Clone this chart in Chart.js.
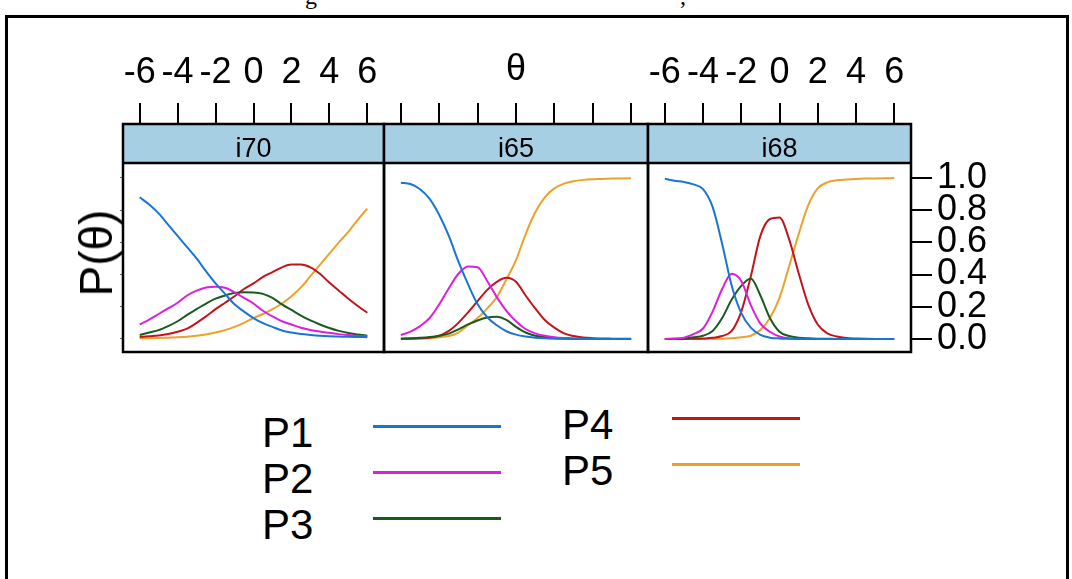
<!DOCTYPE html>
<html>
<head>
<meta charset="utf-8">
<script src="https://cdn.jsdelivr.net/npm/chart.js@4.4.1/dist/chart.umd.min.js"></script>
<style>
  html, body { margin:0; padding:0; background:#fff; width:1072px; height:579px; overflow:hidden;
    font-family:"Liberation Sans", Arial, sans-serif; }
  #frame { position:absolute; left:5px; top:15px; width:1064px; height:640px; border:3px solid #000; box-sizing:border-box; }
  canvas { position:absolute; }
  .cap { position:absolute; top:-16px; font-family:"Liberation Serif", "Times New Roman", serif; font-size:24px; line-height:24px; color:#000; }
  #ylab { position:absolute; left:96px; top:253px; transform:translate(-50%,-50%) rotate(-90deg);
    font-size:46px; line-height:46px; white-space:nowrap; color:#000; }
  .lgt { position:absolute; font-size:42px; line-height:42px; color:#000; white-space:nowrap; }
  .lgl { position:absolute; height:3px; }
</style>
</head>
<body>
<div id="frame"></div>
<span class="cap" style="left:305px">g</span>
<span class="cap" style="left:680px">,</span>
<canvas id="c1" width="277" height="320" style="left:113px;top:40px"></canvas>
<canvas id="c2" width="276" height="320" style="left:378px;top:40px"></canvas>
<canvas id="c3" width="368" height="320" style="left:642px;top:40px"></canvas>
<div id="ylab">P(θ)</div>
<div id="legend"></div>
<script>
// ---------------- data ----------------
const theta = [-6,-5.5,-5,-4.5,-4,-3.5,-3,-2.5,-2,-1.5,-1,-0.5,0,0.5,1,1.5,2,2.5,3,3.5,4,4.5,5,5.5,6];
const categories = ['P1','P2','P3','P4','P5'];
const items = ['i70','i65','i68'];
const xTickValues = [-6,-4,-2,0,2,4,6];
const xTickLabels = ['-6','-4','-2','0','2','4','6'];
const yTickValues = [0,0.2,0.4,0.6,0.8,1.0];
const yTickLabels = ['0.0','0.2','0.4','0.6','0.8','1.0'];
const xTitle = 'θ';

const i70_P1 = [.88,.835,.78,.71,.64,.57,.50,.42,.345,.28,.215,.17,.13,.098,.075,.053,.04,.031,.025,.02,.017,.015,.013,.012,.011];
const i70_P2 = [.09,.12,.155,.19,.225,.27,.30,.32,.325,.318,.29,.255,.22,.175,.14,.11,.09,.07,.056,.046,.038,.03,.024,.019,.015];
const i70_P3 = [.025,.04,.055,.08,.11,.15,.185,.22,.25,.27,.285,.29,.289,.28,.255,.215,.18,.145,.115,.09,.068,.05,.037,.028,.02];
const i70_P4 = [.012,.017,.022,.031,.045,.064,.10,.14,.185,.225,.265,.31,.345,.385,.415,.445,.462,.462,.445,.405,.35,.30,.25,.205,.163];
const i70_P5 = [.004,.005,.006,.008,.01,.014,.02,.028,.04,.055,.075,.10,.13,.155,.185,.22,.265,.32,.39,.46,.53,.60,.665,.74,.81];

const i65_P1 = [.97,.962,.93,.87,.77,.64,.48,.34,.215,.135,.085,.048,.027,.015,.008,.004,.002,.001,0,0,0,0,0,0,0];
const i65_P2 = [.025,.045,.08,.13,.215,.315,.405,.45,.445,.36,.26,.175,.11,.062,.035,.02,.011,.006,.003,.002,.001,0,0,0,0];
const i65_P3 = [.002,.004,.007,.012,.02,.033,.06,.09,.115,.133,.138,.118,.075,.04,.02,.012,.006,.003,.002,.001,0,0,0,0,0];
const i65_P4 = [.001,.002,.004,.008,.02,.05,.10,.165,.235,.305,.355,.38,.355,.27,.19,.118,.07,.035,.018,.009,.005,.003,.002,.001,.001];
const i65_P5 = [0,.001,.002,.005,.01,.018,.04,.085,.13,.19,.26,.37,.49,.65,.785,.88,.935,.965,.98,.988,.992,.994,.996,.997,.998];

const i68_P1 = [.995,.982,.975,.96,.93,.82,.59,.33,.16,.07,.025,.008,.003,.001,0,0,0,0,0,0,0,0,0,0,0];
const i68_P2 = [0,.002,.008,.03,.065,.17,.31,.405,.36,.21,.095,.045,.015,.004,.001,0,0,0,0,0,0,0,0,0,0];
const i68_P3 = [0,.001,.003,.01,.02,.05,.13,.245,.33,.375,.27,.13,.045,.018,.008,.004,.002,.001,0,0,0,0,0,0,0];
const i68_P4 = [0,0,0,.001,.003,.007,.018,.05,.17,.39,.64,.745,.755,.62,.41,.215,.09,.035,.015,.006,.003,.001,0,0,0];
const i68_P5 = [0,0,0,0,0,0,.001,.004,.01,.02,.055,.13,.255,.45,.65,.83,.935,.972,.985,.99,.994,.996,.997,.998,.999];

// ---------------- style ----------------
const FONT = '"Liberation Sans", Arial, sans-serif';
const colors = ['#1a74d6', '#dc1fdc', '#1b5a1f', '#c4141b', '#eca12a'];
const STRIP_BG = '#a7cfe4';
const STRIP_H = 39;
const X_MIN = -6.88, X_MAX = 6.88;
const Y_MIN = -0.081, Y_MAX = 1.335;

const panelPlugin = {
  id: 'panelDeco',
  beforeDatasetsDraw(chart) {
    const { ctx, chartArea: a } = chart;
    ctx.save();
    ctx.fillStyle = STRIP_BG;
    ctx.fillRect(a.left, a.top, a.right - a.left, STRIP_H);
    ctx.restore();
  },
  afterDatasetsDraw(chart, args, opts) {
    const { ctx, chartArea: a } = chart;
    ctx.save();
    ctx.strokeStyle = '#000';
    ctx.lineWidth = 2.5;
    ctx.strokeRect(a.left, a.top, a.right - a.left, a.bottom - a.top);
    ctx.beginPath();
    ctx.moveTo(a.left, a.top + STRIP_H);
    ctx.lineTo(a.right, a.top + STRIP_H);
    ctx.stroke();
    ctx.fillStyle = '#000';
    ctx.font = '27px ' + FONT;
    ctx.textAlign = 'center';
    ctx.textBaseline = 'alphabetic';
    ctx.fillText(opts.label, (a.left + a.right) / 2, a.top + 33);
    ctx.restore();
  }
};

function makePanel(id, itemIdx, series, cfg) {
  const datasets = series.map((arr, k) => ({
    label: categories[k],
    data: theta.map((t, i) => ({ x: t, y: arr[i] })),
    borderColor: colors[k],
    borderWidth: 2,
    pointRadius: 0,
    fill: false,
    cubicInterpolationMode: 'monotone'
  }));
  const yScale = { min: Y_MIN, max: Y_MAX };
  if (cfg.yAxis === 'right') {
    Object.assign(yScale, {
      position: 'right',
      afterBuildTicks: s => { s.ticks = yTickValues.map(v => ({ value: v })); },
      afterFit: s => { s.width = 89; s.paddingTop = 0; s.paddingBottom = 0; },
      grid: { drawOnChartArea: false, drawTicks: true, tickLength: 21, tickColor: '#000', lineWidth: 2 },
      border: { display: false },
      ticks: { color: '#000', font: { size: 36, family: FONT }, padding: 5, autoSkip: false,
        callback: (v, i) => yTickLabels[i] }
    });
  } else if (cfg.yAxis === 'left') {
    Object.assign(yScale, {
      position: 'left',
      afterBuildTicks: s => { s.ticks = yTickValues.map(v => ({ value: v })); },
      afterFit: s => { s.width = 10; s.paddingTop = 0; s.paddingBottom = 0; },
      grid: { drawOnChartArea: false, drawTicks: true, tickLength: 3, tickColor: '#666', lineWidth: 1 },
      border: { display: false },
      ticks: { display: false }
    });
  } else {
    yScale.display = false;
  }
  return new Chart(document.getElementById(id), {
    type: 'line',
    data: { datasets },
    options: {
      responsive: false,
      animation: false,
      devicePixelRatio: 1,
      layout: { padding: cfg.padding },
      plugins: { legend: { display: false }, tooltip: { enabled: false }, panelDeco: { label: items[itemIdx] } },
      scales: {
        x: {
          type: 'linear', position: 'top', min: X_MIN, max: X_MAX,
          afterBuildTicks: s => { s.ticks = xTickValues.map(v => ({ value: v })); },
          afterFit: s => { s.height = 84; s.paddingLeft = 0; s.paddingRight = 0; },
          grid: { drawOnChartArea: false, drawTicks: true, tickLength: 21, tickColor: '#000', lineWidth: 2 },
          border: { display: false },
          ticks: { display: cfg.xLabels, color: '#000', font: { size: 36, family: FONT }, padding: 8,
            maxRotation: 0, autoSkip: false, callback: (v, i) => xTickLabels[i] },
          title: { display: cfg.xTitle, text: xTitle, color: '#000', font: { size: 36, family: FONT },
            padding: { top: 8, bottom: 0 } }
        },
        y: yScale
      }
    },
    plugins: [panelPlugin]
  });
}

makePanel('c1', 0, [i70_P1, i70_P2, i70_P3, i70_P4, i70_P5],
  { yAxis: 'left', xLabels: true, xTitle: false, padding: { left: 0, right: 6, top: 0, bottom: 8 } });
makePanel('c2', 1, [i65_P1, i65_P2, i65_P3, i65_P4, i65_P5],
  { yAxis: 'none', xLabels: false, xTitle: true, padding: { left: 6, right: 6, top: 0, bottom: 8 } });
makePanel('c3', 2, [i68_P1, i68_P2, i68_P3, i68_P4, i68_P5],
  { yAxis: 'right', xLabels: true, xTitle: false, padding: { left: 6, right: 10, top: 0, bottom: 8 } });

// ---------------- legend (HTML) ----------------
const legend = document.getElementById('legend');
categories.forEach((c, k) => {
  const col = k < 3 ? 0 : 1;
  const row = k % 3;
  const baseline = (col === 0 ? 448 : 440) + row * 46;
  const t = document.createElement('div');
  t.className = 'lgt';
  t.textContent = c;
  t.style.left = (col === 0 ? 262 : 562) + 'px';
  t.style.top = (baseline - 36) + 'px';
  legend.appendChild(t);
  const l = document.createElement('div');
  l.className = 'lgl';
  l.style.background = colors[k];
  l.style.left = (col === 0 ? 373 : 672) + 'px';
  l.style.width = '128px';
  l.style.top = (baseline - 23) + 'px';
  legend.appendChild(l);
});
</script>
</body>
</html>
